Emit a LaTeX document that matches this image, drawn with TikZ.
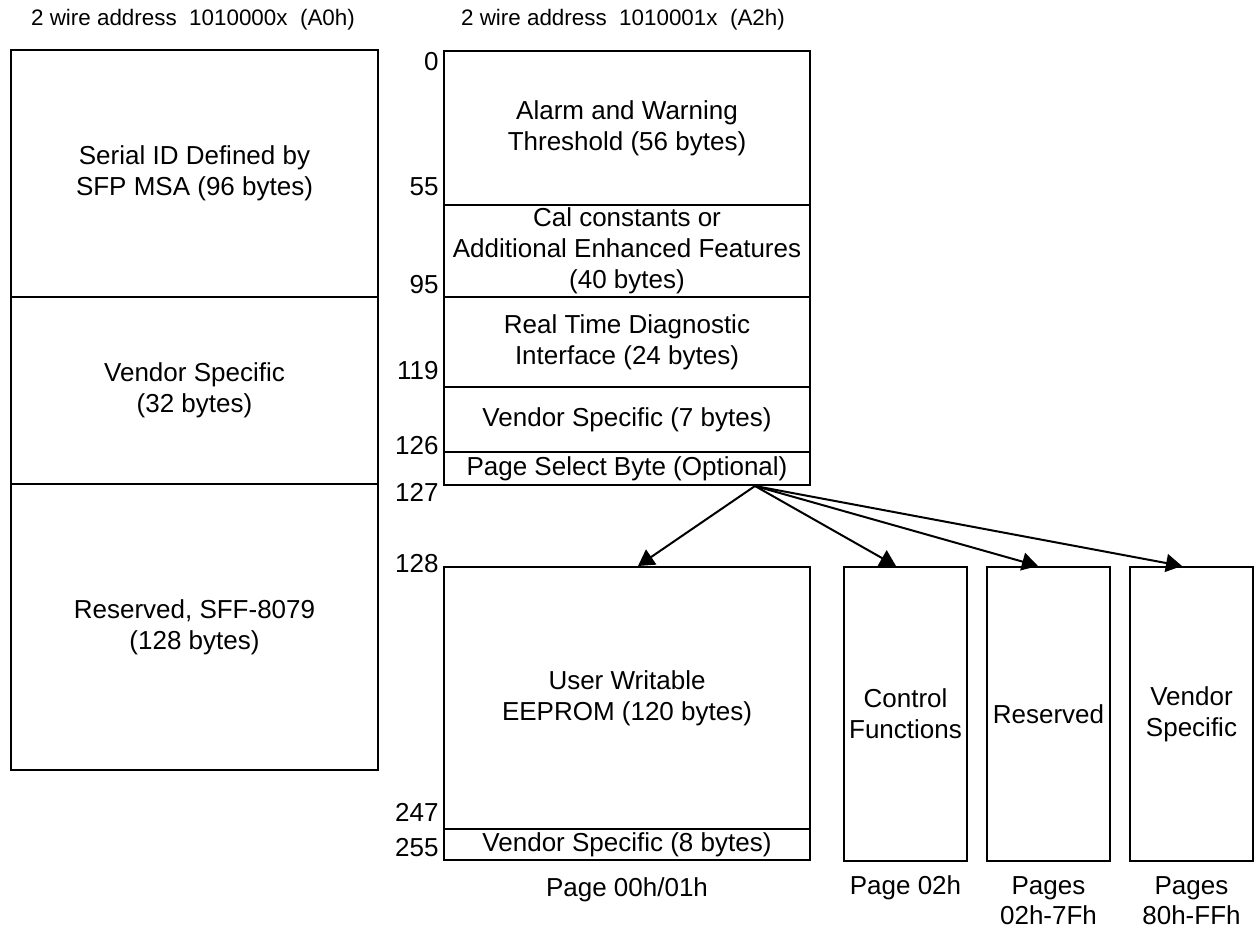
\documentclass[tikz,border=0pt]{standalone}
\usepackage{fontspec}
\setmainfont{Liberation Sans}
\usetikzlibrary{arrows.meta}
\begin{document}
\begin{tikzpicture}[x=0.5pt,y=-0.5pt,
  box/.style={draw, line width=1pt, rectangle, inner sep=0pt, align=center,
    font=\fontsize{13}{15.5}\selectfont},
  lbl/.style={inner sep=0pt, align=center, font=\fontsize{13}{15}\selectfont},
  num/.style={inner sep=0pt, anchor=east, font=\fontsize{13}{15.5}\selectfont},
  hdr/.style={inner sep=0pt, font=\fontsize{11.2}{13}\selectfont},
  conn/.style={line width=1pt, -{Triangle[width=9pt,length=8pt]}}]
\useasboundingbox (0,0) rectangle (1254,930);
% headers
\node[hdr] (h1) at (193,20) {2 wire address\ \ 1010000x\ \ (A0h)};
\node[hdr] (h2) at (623,20) {2 wire address\ \ 1010001x\ \ (A2h)};
% left column (A0h)
\node[box, minimum width=183.5pt, minimum height=123.5pt] (a1) at (194.5,173.5) {Serial ID Defined by\\SFP MSA (96 bytes)};
\node[box, minimum width=183.5pt, minimum height=93.5pt] (a2) at (194.5,390.5) {Vendor Specific\\(32 bytes)};
\node[box, minimum width=183.5pt, minimum height=143pt] (a3) at (194.5,627) {Reserved, SFF-8079\\(128 bytes)};
% middle column (A2h)
\node[box, minimum width=183pt, minimum height=77pt] (b1) at (627,128) {Alarm and Warning\\Threshold (56 bytes)};
\node[box, minimum width=183pt, minimum height=46pt] (b2) at (627,251) {Cal constants or\\Additional Enhanced Features\\(40 bytes)};
\node[box, minimum width=183pt, minimum height=45pt] (b3) at (627,342) {Real Time Diagnostic\\Interface (24 bytes)};
\node[box, minimum width=183pt, minimum height=32.5pt] (b4) at (627,419.5) {Vendor Specific (7 bytes)};
\node[box, minimum width=183pt, minimum height=16.5pt] (b5) at (627,468.5) {Page Select Byte (Optional)};
% lower pages
\node[box, minimum width=183pt, minimum height=131pt] (p0) at (627,698) {User Writable\\EEPROM (120 bytes)};
\node[box, minimum width=183pt, minimum height=15.5pt] (p0v) at (627,844.5) {Vendor Specific (8 bytes)};
\node[box, minimum width=61.5pt, minimum height=147pt] (p2) at (905.5,714) {Control\\Functions};
\node[box, minimum width=61.5pt, minimum height=147pt] (p3) at (1048.5,714) {Reserved};
\node[box, minimum width=61.5pt, minimum height=147pt] (p4) at (1191.5,714) {Vendor\\Specific};
% page labels
\node[lbl] (l0) at (627,890) {Page 00h/01h};
\node[lbl] (l2) at (905.5,888) {Page 02h};
\node[lbl] (l3) at (1048.5,901) {Pages\\02h-7Fh};
\node[lbl] (l4) at (1191.5,901) {Pages\\80h-FFh};
% byte offsets
\node[num] (n0) at (439,62) {0};
\node[num] (n55) at (439,187) {55};
\node[num] (n95) at (439,285) {95};
\node[num] (n119) at (439,371) {119};
\node[num] (n126) at (439,446) {126};
\node[num] (n127) at (439,492) {127};
\node[num] (n128) at (439,564) {128};
\node[num] (n247) at (439,812) {247};
\node[num] (n255) at (439,848) {255};
% arrows
\coordinate (src) at (755,486);
\draw[conn] (src) -- (p0.north -| 638,0);
\draw[conn] (src) -- (p2.north -| 896,0);
\draw[conn] (src) -- (p3.north -| 1038,0);
\draw[conn] (src) -- (p4.north -| 1182,0);
\end{tikzpicture}
\end{document}
